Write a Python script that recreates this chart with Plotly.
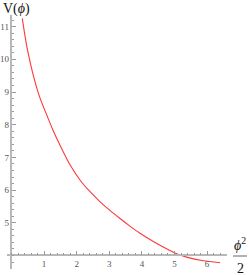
import plotly.graph_objects as go

# data
half_phi_sq = [0.33, 0.40, 0.48, 0.59, 0.72, 0.87, 1.08, 1.26, 1.44, 1.79, 2.10, 2.41,
               2.71, 3.02, 3.33, 3.63, 3.94, 4.35, 4.86, 5.07, 5.37, 5.88, 6.40]
V_phi = [11.25, 10.80, 10.34, 9.83, 9.32, 8.83, 8.30, 7.86, 7.47, 6.78, 6.31, 5.95,
         5.65, 5.38, 5.13, 4.90, 4.68, 4.43, 4.15, 4.05, 3.95, 3.84, 3.78]
x_ticks = [1, 2, 3, 4, 5, 6]
y_ticks = [5, 6, 7, 8, 9, 10, 11]

W, H = 249, 275
ML, MR, MT, MB = 7, 22, 15, 6
PW, PH = W - ML - MR, H - MT - MB
XR = [-0.138, 6.61]
YR = [3.587, 11.355]
Y_ORIGIN = 4
X_ORIGIN = 0

def px_x(p):
    return (p - ML) / PW

def px_y(p):
    return (H - MB - p) / PH

fig = go.Figure()
fig.add_trace(go.Scatter(x=half_phi_sq, y=V_phi, mode="lines",
                         line=dict(color="#ff3838", width=1.1, shape="spline", smoothing=0.6),
                         hoverinfo="skip", showlegend=False))

axis_col = "#b8b8b8"
font_tick = dict(family="Liberation Serif", size=9, color="#555555")

fig.update_layout(
    width=W, height=H,
    margin=dict(l=ML, r=MR, t=MT, b=MB, autoexpand=False),
    paper_bgcolor="white", plot_bgcolor="white",
    xaxis=dict(range=XR, showgrid=False, zeroline=False,
               showline=True, linecolor=axis_col, linewidth=1.5,
               anchor="free", position=(Y_ORIGIN - YR[0]) / (YR[1] - YR[0]),
               tickmode="array", tickvals=x_ticks, ticktext=[str(v) for v in x_ticks],
               ticks="inside", ticklen=4, tickcolor="#999999", tickwidth=1,
               minor=dict(tickmode="linear", tick0=0, dtick=0.2, ticks="inside",
                          ticklen=2, tickcolor="#999999", tickwidth=1),
               tickfont=font_tick, fixedrange=True, automargin=False),
    yaxis=dict(range=YR, showgrid=False, zeroline=False,
               showline=True, linecolor=axis_col, linewidth=1.5,
               anchor="free", position=(X_ORIGIN - XR[0]) / (XR[1] - XR[0]),
               tickmode="array", tickvals=y_ticks, ticktext=[str(v) for v in y_ticks],
               ticks="inside", ticklen=4, tickcolor="#999999", tickwidth=1,
               minor=dict(tickmode="linear", tick0=0, dtick=0.2, ticks="inside",
                          ticklen=2, tickcolor="#999999", tickwidth=1),
               tickfont=font_tick, fixedrange=True, automargin=False),
)

lab_font = dict(family="Liberation Serif", size=14, color="#111111")
fig.add_annotation(text="V(<i>ϕ</i>)", xref="paper", yref="paper",
                   x=px_x(1), y=px_y(-1), xanchor="left", yanchor="top",
                   showarrow=False, font=lab_font)
fig.add_annotation(text="<i>ϕ</i><sup>2</sup>", xref="paper", yref="paper",
                   x=px_x(240), y=px_y(244), xanchor="center", yanchor="middle",
                   showarrow=False, font=lab_font)
fig.add_shape(type="line", xref="paper", yref="paper",
              x0=px_x(233), x1=px_x(247), y0=px_y(256), y1=px_y(256),
              line=dict(color="#999999", width=1.5))
fig.add_annotation(text="2", xref="paper", yref="paper",
                   x=px_x(240), y=px_y(268), xanchor="center", yanchor="middle",
                   showarrow=False, font=lab_font)

fig.write_html("out.html", config={"displayModeBar": False},
               post_script="document.body.style.margin='0';document.body.style.overflow='hidden';")
